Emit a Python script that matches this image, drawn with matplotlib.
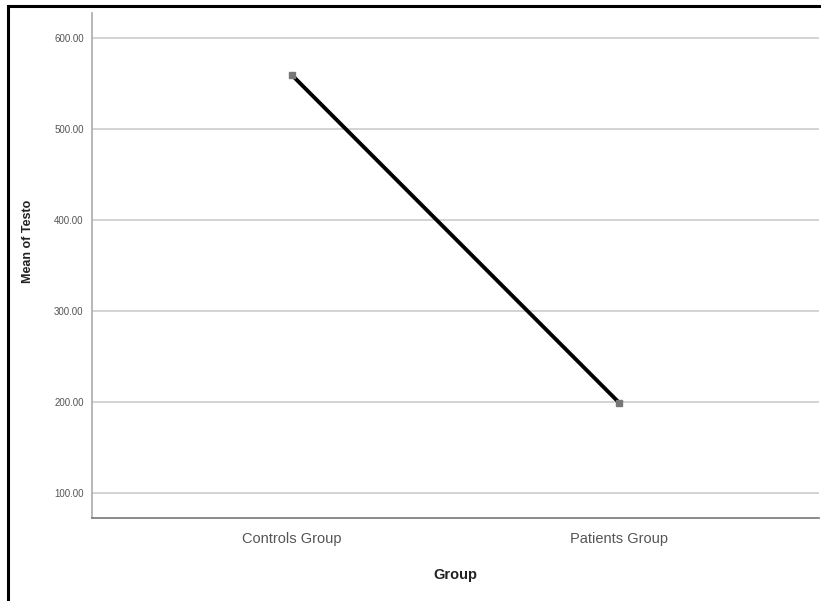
import matplotlib
matplotlib.use('Agg')
import matplotlib.pyplot as plt
from matplotlib.patches import Rectangle

groups = ["Controls Group", "Patients Group"]
mean_testo = [559.0, 199.0]
y_ticks = [100, 200, 300, 400, 500, 600]

fig = plt.figure(figsize=(8.21, 6.01), dpi=100)
fig.patch.set_facecolor("white")

# outer black frame like the pasted SPSS output
fig.patches.append(Rectangle((8 / 821, -0.05), 1.05, 1 - 6 / 601 + 0.05,
                             transform=fig.transFigure, fill=False,
                             edgecolor="black", lw=2.2, zorder=10))

ax = fig.add_axes([92 / 821, 1 - 518 / 601, 727 / 821, 505 / 601])
ax.set_facecolor("white")

x = list(range(len(groups)))
ax.plot(x, mean_testo, color="black", lw=2.8, zorder=3)
ax.plot(x, mean_testo, ls="none", marker="s", ms=4, color="#777777", zorder=4)

ax.set_xlim(-0.61, 1.61)
ax.set_ylim(72.5, 627)
ax.set_yticks(y_ticks)
ax.set_yticklabels([f"{v:.2f}" for v in y_ticks], family="Liberation Sans",
                   fontsize=7, color="#555555")
ax.set_xticks(x)
ax.set_xticklabels(groups, family="Liberation Sans",
                   fontsize=10.5, color="#555555")
ax.tick_params(axis="both", length=0)
ax.tick_params(axis="y", pad=6)
ax.tick_params(axis="x", pad=10)

ax.grid(axis="y", color="#cccccc", lw=1.2)
ax.set_axisbelow(True)

for s in ["top", "right"]:
    ax.spines[s].set_visible(False)
ax.spines["left"].set_color("#aaaaaa")
ax.spines["left"].set_linewidth(1.2)
ax.spines["bottom"].set_color("#777777")
ax.spines["bottom"].set_linewidth(1.2)

ax.set_ylabel("Mean of Testo", fontsize=9, fontweight="bold",
              family="Liberation Sans", color="#222222")
ax.yaxis.set_label_coords(-0.08, 0.547)
ax.set_xlabel("Group", fontsize=10.5, fontweight="bold",
              family="Liberation Sans", color="#222222", labelpad=16)

fig.savefig("out.png", dpi=100, facecolor="white")
